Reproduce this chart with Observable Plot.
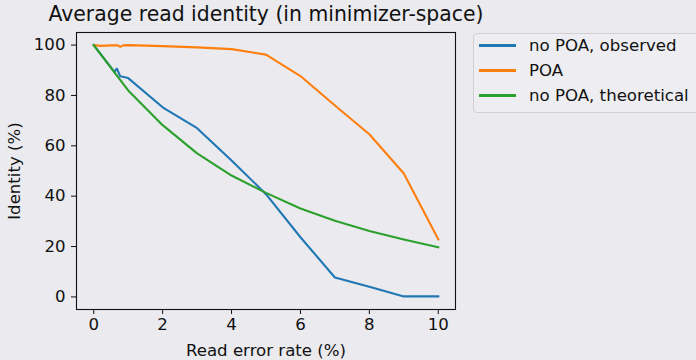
<!DOCTYPE html>
<html>
<head>
<meta charset="utf-8">
<script src="https://cdn.jsdelivr.net/npm/d3@7"></script>
<script src="https://cdn.jsdelivr.net/npm/@observablehq/plot@0.6"></script>
<style>
  html, body { margin: 0; padding: 0; background: #eaeaef; }
  #wrap { position: relative; width: 696px; height: 360px; background: #eaeaef; overflow: hidden; font-family: "DejaVu Sans", sans-serif; }
  #legend { position: absolute; left: 473px; top: 33px; width: 240px; height: 78px; border: 1px solid #cfcfd4; border-radius: 4px; background: #eeeef2; }
  .item { position: absolute; left: 0; height: 22px; display: flex; align-items: center; font-size: 16.6px; color: #111; white-space: nowrap; }
  .item .sw { width: 37px; height: 2.1px; margin-left: 5px; margin-right: 13px; }
</style>
</head>
<body>
<div id="wrap"><div id="legend"></div></div>
<script>
const seriesNames = ["no POA, observed", "POA", "no POA, theoretical"];
const seriesColors = ["#1f77b4", "#ff7f0e", "#2ca02c"];

const observedErr = [0, 0.6, 0.67, 0.77, 1, 2, 3, 4, 5, 6, 7, 8, 9, 10];
const observedId  = [100, 89.4, 90.7, 87.6, 86.9, 75.3, 67, 54.2, 40.8, 23.7, 7.7, 4.0, 0.2, 0.2];

const poaErr = [0, 0.2, 0.5, 0.7, 0.77, 0.85, 1, 2, 3, 4, 5, 6, 7, 8, 9, 10];
const poaId  = [100, 99.7, 99.9, 99.9, 99.3, 99.9, 100, 99.6, 99.1, 98.4, 96.2, 87.7, 76, 64.6, 49, 22.9];

const theoErr = [0, 1, 2, 3, 4, 5, 6, 7, 8, 9, 10];
const theoId  = [100, 82, 68.2, 57, 48.2, 41.3, 35.1, 30.2, 26.2, 22.8, 19.7];

const xTicks = [0, 2, 4, 6, 8, 10];
const yTicks = [0, 20, 40, 60, 80, 100];

const rows = [];
observedErr.forEach((e, i) => rows.push({series: seriesNames[0], err: e, id: observedId[i]}));
poaErr.forEach((e, i) => rows.push({series: seriesNames[1], err: e, id: poaId[i]}));
theoErr.forEach((e, i) => rows.push({series: seriesNames[2], err: e, id: theoId[i]}));

const chart = Plot.plot({
  width: 696,
  height: 360,
  marginLeft: 76,
  marginRight: 241,
  marginTop: 32,
  marginBottom: 51,
  style: {background: "transparent", fontFamily: "DejaVu Sans, sans-serif", fontSize: "16.6px", color: "#111"},
  x: {domain: [-0.5, 10.5], ticks: xTicks, label: null},
  y: {domain: [-5, 105], ticks: yTicks, label: null},
  color: {domain: seriesNames, range: seriesColors},
  marks: [
    Plot.axisX({ticks: xTicks, tickSize: 5, tickPadding: 4, fontSize: "16.6px", label: "Read error rate (%)", labelAnchor: "center", labelOffset: 46, labelArrow: "none"}),
    Plot.axisY({ticks: yTicks, tickSize: 5, tickPadding: 6, fontSize: "16.6px", label: "Identity (%)", labelAnchor: "center", labelOffset: 68, labelArrow: "none"}),
    Plot.line(rows, {x: "err", y: "id", stroke: "series", z: "series", strokeWidth: 2.1, strokeLinejoin: "round", strokeLinecap: "square"}),
    Plot.frame({stroke: "#111", strokeWidth: 1.1}),
    Plot.text(["Average read identity (in minimizer-space)"], {frameAnchor: "top", lineAnchor: "top", dy: -26, text: d => d, fontSize: "20.4px", fill: "#111"})
  ]
});
document.getElementById("wrap").prepend(chart);
chart.style.position = "absolute";
chart.style.left = "0";
chart.style.top = "0";

const legend = document.getElementById("legend");
seriesNames.forEach((name, i) => {
  const it = document.createElement("div");
  it.className = "item";
  it.style.top = (0.5 + i * 25) + "px";
  const sw = document.createElement("span");
  sw.className = "sw";
  sw.style.background = seriesColors[i];
  const lab = document.createElement("span");
  lab.textContent = name;
  it.appendChild(sw);
  it.appendChild(lab);
  legend.appendChild(it);
});
</script>
</body>
</html>
